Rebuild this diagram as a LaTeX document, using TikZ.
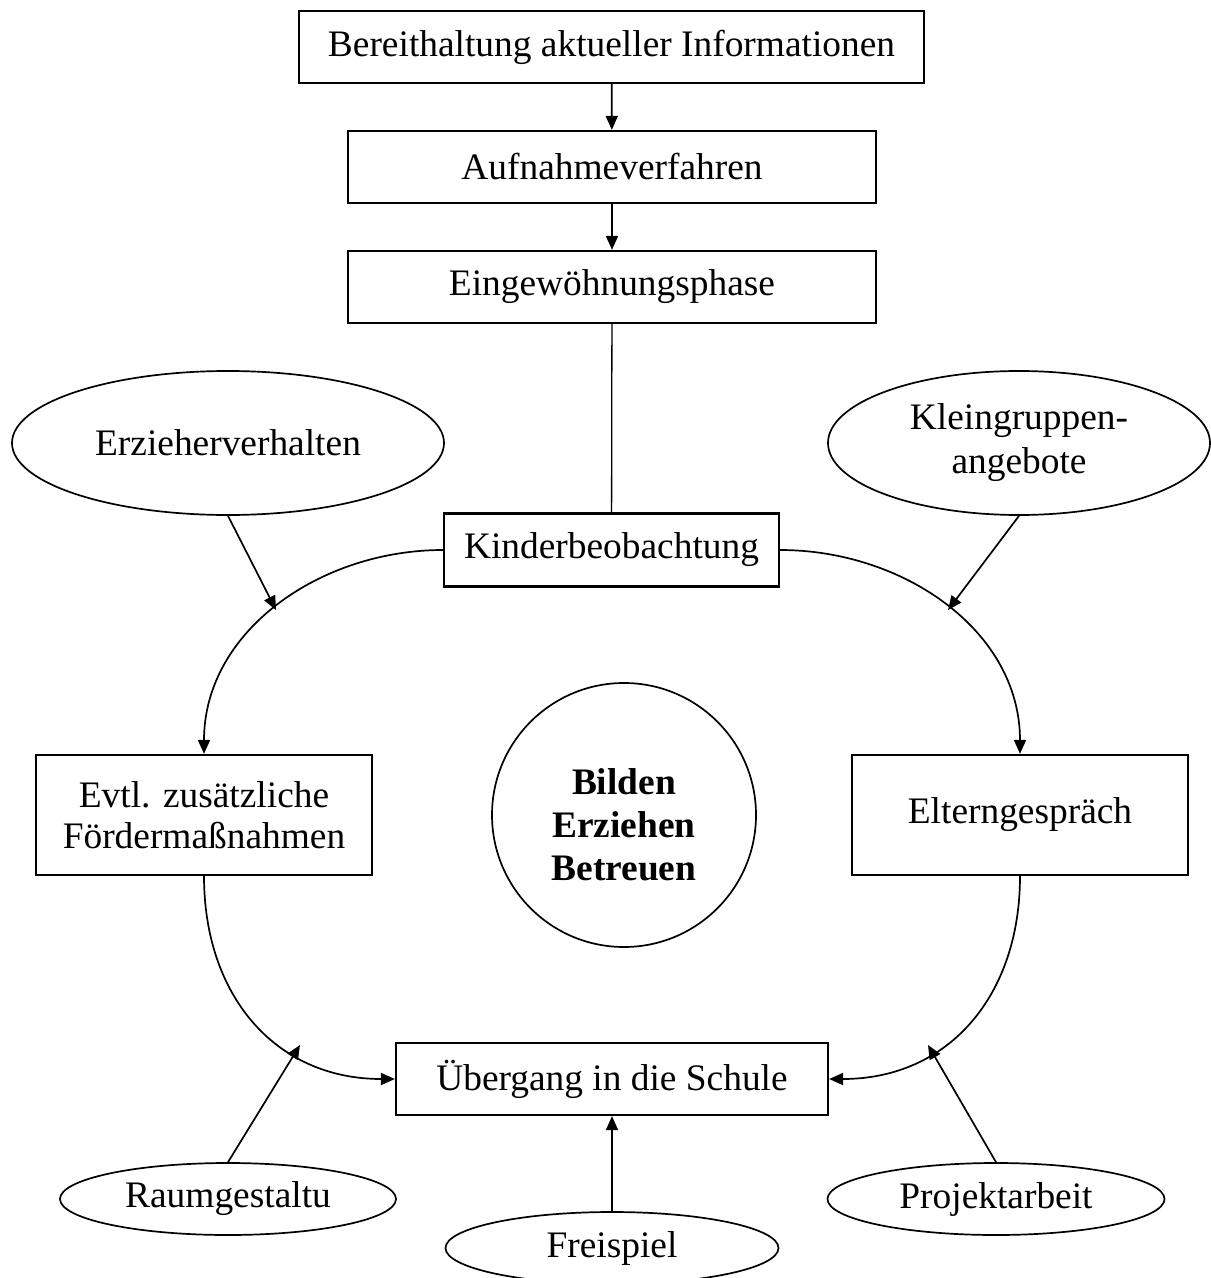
\documentclass[tikz,border=0pt]{standalone}
\usepackage{fontspec}
\setmainfont{Liberation Serif}
\usetikzlibrary{shapes.geometric,arrows.meta}

\begin{document}
\begin{tikzpicture}[x=0.5pt,y=0.5pt,>={Triangle[length=7pt,width=6pt]},
    font=\fontsize{18.7}{21.5}\selectfont,
    box/.style={draw,line width=1.1pt,inner sep=0pt,align=center},
    oval/.style={draw,ellipse,line width=0.85pt,inner sep=0pt,align=center}]
    \useasboundingbox (0,0) rectangle (1210,-1278);
    \node[box,minimum width=312.5pt,minimum height=36pt](info) at (611.5,-47) {Bereithaltung aktueller Informationen};
    \node[box,minimum width=264pt,minimum height=36pt](aufn) at (612,-167) {Aufnahmeverfahren};
    \node[box,minimum width=264pt,minimum height=36pt](eingew) at (612,-287) {Eingewöhnungsphase};
    \node[box,minimum width=167.5pt,minimum height=36.5pt](kinder) at (611.5,-550) {Kinderbeobachtung};
    \node[oval,minimum width=216pt,minimum height=72pt](erz) at (228,-443) {Erzieherverhalten};
    \node[oval,minimum width=191pt,minimum height=72pt](klein) at (1019,-443) {Kleingruppen-\\[0.5pt]angebote};
    \node[box,minimum width=168pt,minimum height=60pt](evtl) at (204,-815) {Evtl. zusätzliche\\[-1pt]Fördermaßnahmen};
    \node[box,minimum width=168pt,minimum height=60pt](eltern) at (1020,-815) {Elterngespräch};
    \node[draw,circle,line width=0.85pt,inner sep=0pt,align=center,minimum size=132pt,text height=66pt,font=\fontsize{18.7}{21.5}\selectfont\bfseries](bild) at (624,-815) {Bilden\\Erziehen\\Betreuen};
    \node[box,minimum width=216pt,minimum height=36pt](ueber) at (612,-1079) {Übergang in die Schule};
    \node[oval,minimum width=168pt,minimum height=36pt](raum) at (228,-1199) {Raumgestaltu};
    \node[oval,minimum width=166.5pt,minimum height=36pt](frei) at (612,-1248) {Freispiel};
    \node[oval,minimum width=168.5pt,minimum height=36pt](proj) at (996,-1199) {Projektarbeit};
    \coordinate (erztip) at (276,-610);
    \coordinate (kleintip) at (948,-610);
    \coordinate (raumtip) at (300,-1045);
    \coordinate (projtip) at (928,-1045);
    \path[->,line width=0.85pt]
    (info) edge (aufn)
    (aufn) edge (eingew)
    (eingew) edge[-,line width=0.65pt] (kinder)
    (kinder.west) edge[out=180,in=90] (evtl.north)
    (kinder.east) edge[out=0,in=90] (eltern.north)
    (evtl.south) edge[out=-90,in=180,looseness=1.1] (ueber.west)
    (eltern.south) edge[out=-90,in=0,looseness=1.1] (ueber.east)
    (erz.south) edge (erztip)
    (klein.south) edge (kleintip)
    (raum.north) edge (raumtip)
    (proj.north) edge (projtip)
    (frei.north) edge (ueber.south);
\end{tikzpicture}
\end{document}
